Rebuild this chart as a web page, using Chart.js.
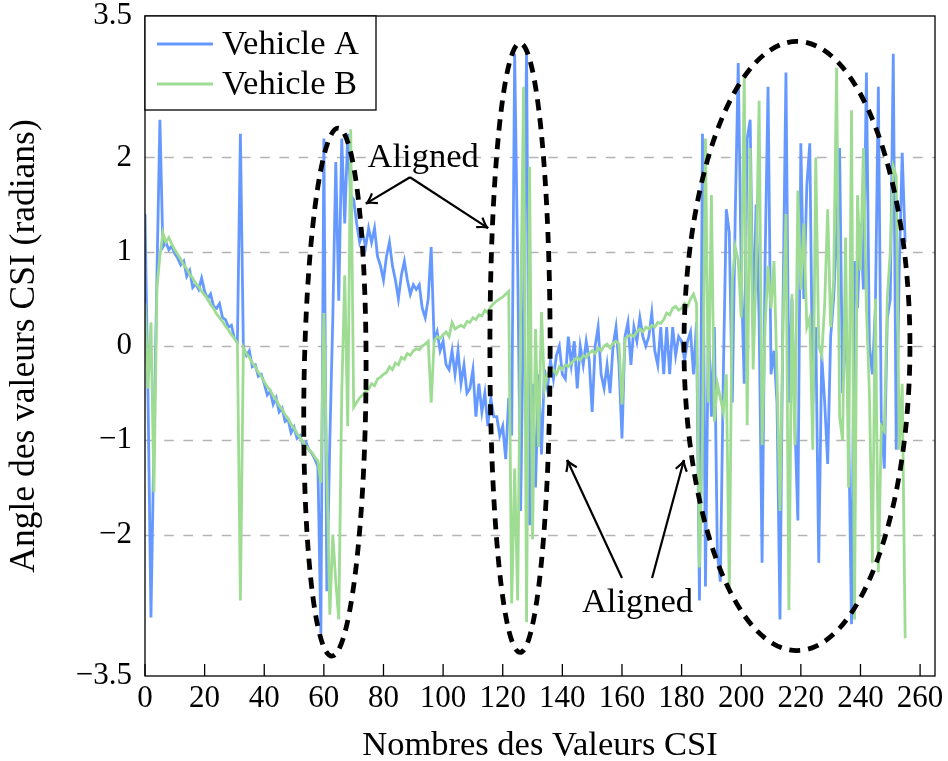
<!DOCTYPE html>
<html lang="fr">
<head>
<meta charset="UTF-8" />
<title>Angle des valeurs CSI</title>
<script src="https://cdn.jsdelivr.net/npm/chart.js"></script>
<style>
  body { margin: 0; background: #ffffff; }
  canvas { display: block; }
</style>
</head>
<body>
<canvas id="csiChart" width="948" height="761"></canvas>
<script>
// CSI angle values, index 0..255
const vehicleA = [
  1.40, -0.50, -2.88, -1.00, 0.75, 2.40, 1.05, 1.10, 1.02, 1.06,
  0.98, 0.93, 0.86, 0.90, 0.74, 0.80, 0.62, 0.66, 0.60, 0.72,
  0.58, 0.50, 0.55, 0.42, 0.40, 0.45, 0.30, 0.28, 0.20, 0.22,
  0.08, 0.05, 2.25, -0.02, -0.10, -0.05, -0.22, -0.20, -0.32, -0.30,
  -0.40, -0.52, -0.48, -0.62, -0.55, -0.70, -0.66, -0.80, -0.78, -0.92,
  -0.86, -0.98, -0.95, -1.05, -1.02, -1.10, -1.14, -1.20, -1.28, -3.05,
  2.20, -2.60, -1.00, 0.30, 1.95, 0.48, 2.20, 1.30, 2.25, 1.60,
  1.55, 1.30, 1.10, 1.20, 1.05, 1.25, 1.10, 1.25, 0.95, 0.85,
  0.70, 0.95, 1.10, 0.85, 0.70, 0.50, 0.75, 0.90, 0.70, 0.55,
  0.65, 0.60, 0.65, 0.40, 0.30, 0.50, 1.05, 0.05, 0.15, -0.05,
  0.05, -0.20, -0.25, -0.05, -0.30, -0.05, -0.40, -0.20, -0.50, -0.45,
  -0.25, -0.75, -0.40, -0.70, -0.50, -0.85, -0.55, -0.75, -0.75, -0.95,
  -0.85, -1.20, -0.55, -0.95, 3.10, 0.90, -1.75, 0.50, 3.15, -1.90,
  -0.40, -1.50, -0.30, -1.15, -0.25, -0.45, -0.15, -0.35, -0.10, 0.00,
  -0.30, -0.35, 0.10, -0.20, 0.05, -0.45, 0.00, -0.20, 0.05, -0.15,
  -0.70, 0.00, 0.20, -0.30, -0.45, -0.20, -0.50, 0.00, 0.20, -0.20,
  -0.98, 0.10, 0.25, -0.20, 0.20, 0.05, 0.30, 0.10, 0.00, 0.10,
  0.35, -0.05, -0.20, 0.20, -0.30, 0.20, -0.30, 0.20, -0.10, 0.10,
  0.05, -0.15, 0.05, 0.15, -0.30, 0.25, -2.70, 2.25, -2.55, 0.25,
  -0.75, 0.20, -2.20, -2.50, -0.30, 1.45, 1.20, -0.60, 1.40, 3.00,
  0.80, -0.40, 2.20, 2.40, 0.20, 1.50, 0.30, -2.30, 0.90, 2.75,
  -0.30, -0.05, -0.60, -2.90, 0.40, 2.90, -0.60, 0.50, -0.80, -1.85,
  2.15, 0.50, 1.70, 2.15, -0.60, 0.20, -2.30, -0.10, -0.60, -1.25,
  0.10, 0.50, 1.20, 2.10, -0.50, 0.30, -0.80, -2.95, 0.90, 0.40,
  1.30, 0.60, 2.90, 0.00, -0.30, 0.40, 2.75, -0.80, -1.30, 0.30,
  0.50, 3.10, -1.10, 0.80, 2.05, 1.10
];
const vehicleB = [
  0.45, -0.45, 0.25, -1.55, 0.62, 0.95, 1.20, 1.10, 1.15, 1.08,
  1.02, 0.97, 0.92, 0.86, 0.82, 0.76, 0.72, 0.66, 0.63, 0.58,
  0.54, 0.50, 0.44, 0.40, 0.34, 0.30, 0.26, 0.21, 0.17, 0.12,
  0.08, 0.03, -2.70, -0.02, -0.08, -0.12, -0.18, -0.22, -0.28, -0.32,
  -0.38, -0.43, -0.47, -0.53, -0.57, -0.63, -0.67, -0.73, -0.77, -0.83,
  -0.87, -0.93, -0.97, -1.02, -1.06, -1.10, -1.13, -1.18, -1.22, -1.45,
  0.35, -1.30, -2.85, -2.00, -2.50, -2.90, -0.50, 0.75, -0.85, 2.30,
  -0.65, -0.60, -0.55, -0.52, -0.48, -0.46, -0.40, -0.42, -0.35, -0.33,
  -0.30, -0.28, -0.22, -0.25, -0.18, -0.20, -0.12, -0.14, -0.08, -0.10,
  -0.05, -0.03, -0.04, 0.00, 0.02, 0.05, -0.60, 0.05, 0.10, 0.08,
  0.12, 0.15, 0.10, 0.25, 0.18, 0.20, 0.22, 0.20, 0.26, 0.25,
  0.30, 0.28, 0.33, 0.32, 0.38, 0.35, 0.42, 0.45, 0.48, 0.50,
  0.52, 0.55, 0.58, -2.73, -1.30, -2.70, 0.30, 2.75, -2.93, 1.90,
  -2.05, 0.18, -1.07, 0.36, -0.45, -0.30, -0.28, -0.25, -0.30, -0.22,
  -0.25, -0.20, -0.22, -0.18, -0.15, -0.12, -0.15, -0.10, -0.12, -0.08,
  -0.05, -0.08, -0.02, -0.05, 0.00, 0.02, -0.02, 0.03, 0.05, 0.02,
  -0.62, 0.08, 0.10, 0.12, 0.10, 0.15, 0.18, 0.15, 0.20, 0.18,
  0.22, 0.20, 0.25, 0.24, 0.28, 0.35, 0.33, 0.40, 0.42, 0.38,
  0.40, 0.45, 0.42, 0.50, 0.55, 0.45, -2.35, -1.00, 2.20, -0.60,
  1.60, -0.80, -0.40, -0.55, -0.70, -0.30, -2.60, 0.70, 1.05, 0.90,
  0.30, 2.85, -0.84, 2.10, -0.25, 0.80, 2.60, -1.05, 0.20, 0.85,
  0.40, 0.90, -0.30, -1.75, 0.20, 1.40, -2.80, 0.55, -1.05, 1.65,
  0.60, 1.30, 0.20, 0.30, -1.10, 2.00, 0.00, -0.10, 0.45, 1.45,
  0.20, 0.70, 2.95, -0.75, -1.00, 1.15, -1.50, 2.50, -2.90, 1.60,
  0.80, 2.10, 0.40, -0.50, -2.30, 0.50, -2.40, -0.85, -0.90, 0.50,
  1.00, 1.90, 1.80, -1.10, -0.40, -3.10
];
const csiIndex = vehicleA.map((_, i) => i);

const xTickValues = [0, 20, 40, 60, 80, 100, 120, 140, 160, 180, 200, 220, 240, 260];
const yTickValues = [-3.5, -2, -1, 0, 1, 2, 3.5];
const yGridValues = [-2, -1, 0, 1, 2];

// dashed ellipses round the non aligned zones (data units)
const zones = [
  { cx: 63.7, cy: -0.49, rx: 10.4, ry: 2.8, tilt: 0.012 },
  { cx: 125.8, cy: -0.02, rx: 10.1, ry: 3.23, tilt: 0 },
  { cx: 218.7, cy: 0.0, rx: 37.9, ry: 3.23, tilt: 0 }
];
// "Aligned" labels and their arrows (data units)
const notes = [
  { text: "Aligned", x: 93.3, y: 1.9,
    arrows: [[88.9, 1.79, 74.1, 1.51], [88.9, 1.79, 115.1, 1.25]] },
  { text: "Aligned", x: 165.2, y: -2.82,
    arrows: [[160.0, -2.46, 141.6, -1.21], [170.1, -2.46, 180.8, -1.21]] }
];

const serif = "'Liberation Serif', 'Times New Roman', serif";
const blue = "#6699ff";
const green = "#9edb93";

const overlay = {
  id: "overlay",
  beforeDatasetsDraw(chart) {
    const { ctx, chartArea: a, scales: { y } } = chart;
    ctx.save();
    ctx.strokeStyle = "#b4b4b4";
    ctx.lineWidth = 1.3;
    ctx.setLineDash([9.6, 9.6]);
    yGridValues.forEach((v) => {
      const py = Math.round(y.getPixelForValue(v)) + 0.5;
      ctx.beginPath();
      ctx.moveTo(a.left, py);
      ctx.lineTo(a.right, py);
      ctx.stroke();
    });
    ctx.restore();
  },
  afterDatasetsDraw(chart) {
    const { ctx, chartArea: a, scales: { x, y } } = chart;
    ctx.save();
    // frame
    ctx.strokeStyle = "#000";
    ctx.lineWidth = 1.3;
    ctx.strokeRect(a.left, a.top, a.right - a.left, a.bottom - a.top);
    // x tick marks, inside
    xTickValues.forEach((v) => {
      const px = x.getPixelForValue(v);
      ctx.beginPath();
      ctx.moveTo(px, a.bottom);
      ctx.lineTo(px, a.bottom - 12);
      ctx.stroke();
    });
    // ellipses
    ctx.lineWidth = 4.8;
    ctx.setLineDash([11, 8]);
    zones.forEach((z) => {
      const cx = x.getPixelForValue(z.cx);
      const cy = y.getPixelForValue(z.cy);
      const rx = x.getPixelForValue(z.cx + z.rx) - cx;
      const ry = cy - y.getPixelForValue(z.cy + z.ry);
      ctx.beginPath();
      ctx.ellipse(cx, cy, rx, ry, z.tilt, 0, Math.PI * 2);
      ctx.stroke();
    });
    ctx.setLineDash([]);
    // notes
    ctx.lineWidth = 2.2;
    ctx.fillStyle = "#000";
    ctx.font = "34.5px " + serif;
    ctx.textAlign = "center";
    ctx.textBaseline = "alphabetic";
    notes.forEach((n) => {
      ctx.fillText(n.text, x.getPixelForValue(n.x), y.getPixelForValue(n.y));
      n.arrows.forEach(([x0, y0, x1, y1]) => {
        const sx = x.getPixelForValue(x0), sy = y.getPixelForValue(y0);
        const ex = x.getPixelForValue(x1), ey = y.getPixelForValue(y1);
        const ang = Math.atan2(ey - sy, ex - sx);
        ctx.beginPath();
        ctx.moveTo(sx, sy);
        ctx.lineTo(ex, ey);
        ctx.stroke();
        ctx.beginPath();
        ctx.moveTo(ex - 12 * Math.cos(ang - 0.5), ey - 12 * Math.sin(ang - 0.5));
        ctx.quadraticCurveTo(ex - 3 * Math.cos(ang), ey - 3 * Math.sin(ang), ex, ey);
        ctx.quadraticCurveTo(ex - 3 * Math.cos(ang), ey - 3 * Math.sin(ang),
          ex - 12 * Math.cos(ang + 0.5), ey - 12 * Math.sin(ang + 0.5));
        ctx.stroke();
      });
    });
    ctx.restore();
  },
  afterDraw(chart) {
    // legend box in the top left corner
    const { ctx, chartArea: a } = chart;
    const left = a.left, top = a.top;
    ctx.save();
    ctx.fillStyle = "#fff";
    ctx.fillRect(left, top, 231, 94);
    ctx.strokeStyle = "#000";
    ctx.lineWidth = 1.3;
    ctx.strokeRect(left, top, 231, 94);
    ctx.font = "34.5px " + serif;
    ctx.textAlign = "left";
    ctx.textBaseline = "alphabetic";
    chart.data.datasets.forEach((ds, i) => {
      const ly = top + 28 + i * 40;
      ctx.strokeStyle = ds.borderColor;
      ctx.lineWidth = 3;
      ctx.beginPath();
      ctx.moveTo(left + 12, ly);
      ctx.lineTo(left + 68, ly);
      ctx.stroke();
      ctx.fillStyle = "#000";
      ctx.fillText(ds.label, left + 77, ly + 10);
    });
    ctx.restore();
  }
};

new Chart(document.getElementById("csiChart"), {
  type: "line",
  data: {
    labels: csiIndex,
    datasets: [
      { label: "Vehicle A", data: vehicleA, borderColor: blue, borderWidth: 2.8, order: 1 },
      { label: "Vehicle B", data: vehicleB, borderColor: green, borderWidth: 2.8, order: 0 }
    ]
  },
  options: {
    responsive: false,
    animation: false,
    layout: { padding: { top: 16, right: 13, left: 0, bottom: 0 } },
    elements: { point: { radius: 0 }, line: { tension: 0 } },
    plugins: { legend: { display: false }, tooltip: { enabled: false } },
    scales: {
      x: {
        type: "linear",
        min: 0,
        max: 265,
        afterBuildTicks: (s) => { s.ticks = xTickValues.map((v) => ({ value: v })); },
        afterFit: (s) => { s.height = 85; s.paddingLeft = 0; s.paddingRight = 0; },
        grid: { display: false, drawTicks: false },
        border: { display: false },
        ticks: { autoSkip: false, maxRotation: 0, padding: 4, color: "#000",
          font: { family: serif, size: 31 } },
        title: { display: true, text: "Nombres des Valeurs CSI", color: "#000",
          font: { family: serif, size: 34.5, lineHeight: 0.9 }, padding: { top: 0, bottom: 0 } }
      },
      y: {
        min: -3.5,
        max: 3.5,
        afterBuildTicks: (s) => { s.ticks = yTickValues.map((v) => ({ value: v })); },
        afterFit: (s) => { s.width = 145; s.paddingTop = 0; s.paddingBottom = 0; },
        grid: { display: false, drawTicks: false },
        border: { display: false },
        ticks: { padding: 13, color: "#000", font: { family: serif, size: 31 },
          callback: (v) => (v < 0 ? "\u2212" + Math.abs(v) : String(v)) },
        title: { display: true, text: "Angle des valeurs CSI (radians)", color: "#000",
          font: { family: serif, size: 35.5, lineHeight: 0.9 }, padding: { top: 9, bottom: 0 } }
      }
    }
  },
  plugins: [overlay]
});
</script>
</body>
</html>
